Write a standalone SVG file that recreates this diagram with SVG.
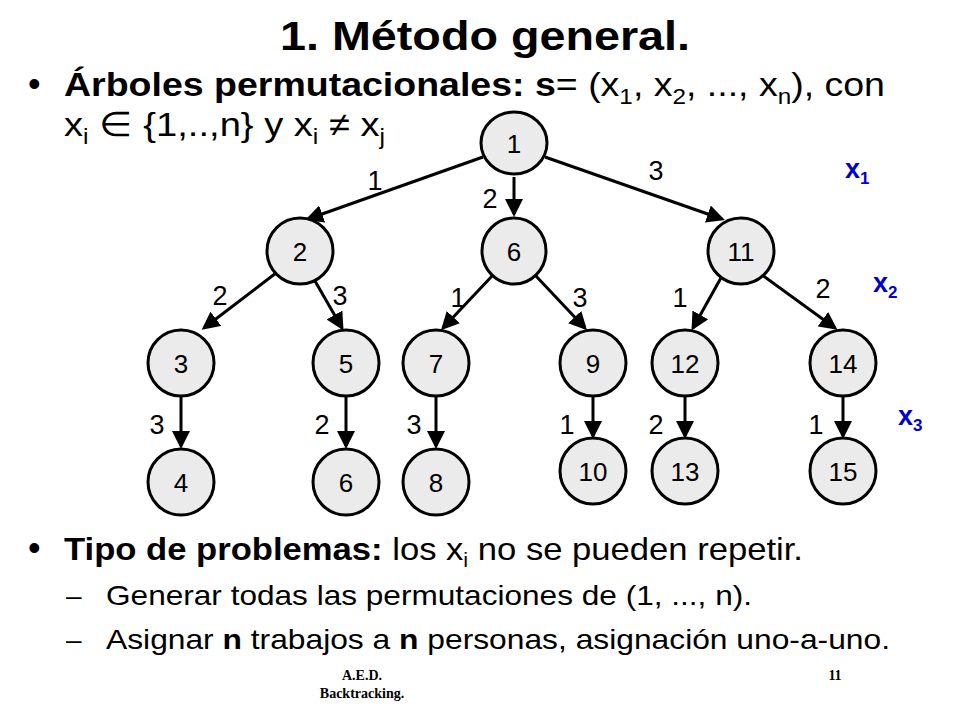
<svg xmlns="http://www.w3.org/2000/svg" width="960" height="720" viewBox="0 0 960 720">
<defs>
<style>
.t{font-family:"Liberation Sans",Arial,sans-serif;fill:#000}
.n ellipse{fill:#ebebeb;stroke:#000;stroke-width:3}
.n text{font-family:"Liberation Sans",Arial,sans-serif;font-size:26px;text-anchor:middle}
.e line{stroke:#000;stroke-width:3;marker-end:url(#a)}
.l{font-family:"Liberation Sans",Arial,sans-serif;font-size:27px;text-anchor:middle}
.x{font-family:"Liberation Sans",Arial,sans-serif;font-size:27px;font-weight:bold;fill:#0000cc}
.f{font-family:"Liberation Serif","Times New Roman",serif;font-size:14px;font-weight:bold;text-anchor:middle}
</style>
<marker id="a" markerWidth="6" markerHeight="6" refX="5" refY="3" orient="auto" markerUnits="strokeWidth"><path d="M0,0L6,3L0,6z"/></marker>
</defs>
<rect width="960" height="720" fill="#fff"/>
<text class="t" x="280" y="50" font-size="40" font-weight="bold" textLength="410" lengthAdjust="spacingAndGlyphs">1. Método general.</text>
<text class="t" x="28" y="96" font-size="36">•</text>
<text class="t" x="64" y="96" font-size="34" textLength="821" lengthAdjust="spacingAndGlyphs"><tspan font-weight="bold">Árboles permutacionales: s</tspan>= (x<tspan font-size="22" dy="8">1</tspan><tspan dy="-8">, x</tspan><tspan font-size="22" dy="8">2</tspan><tspan dy="-8">, ..., x</tspan><tspan font-size="22" dy="8">n</tspan><tspan dy="-8">), con</tspan></text>
<text class="t" x="64" y="136" font-size="34" textLength="321" lengthAdjust="spacingAndGlyphs">x<tspan font-size="22" dy="8">i</tspan><tspan dy="-8"> ∈ {1,..,n} y x</tspan><tspan font-size="22" dy="8">i</tspan><tspan dy="-8"> ≠ x</tspan><tspan font-size="22" dy="8">j</tspan></text>
<g class="e" id="connectors">
<line x1="483" y1="157" x2="308" y2="219"/>
<line x1="514" y1="177" x2="514" y2="214"/>
<line x1="545" y1="157" x2="722" y2="219"/>
<line x1="276" y1="273" x2="204" y2="328"/>
<line x1="315" y1="281" x2="342" y2="328"/>
<line x1="493" y1="275" x2="443" y2="328"/>
<line x1="535" y1="275" x2="585" y2="328"/>
<line x1="722" y1="276" x2="693" y2="328"/>
<line x1="762" y1="275" x2="835" y2="328"/>
<line x1="181" y1="397" x2="181" y2="446"/>
<line x1="346" y1="397" x2="346" y2="446"/>
<line x1="436" y1="397" x2="436" y2="446"/>
<line x1="593" y1="397" x2="593" y2="436"/>
<line x1="685" y1="397" x2="685" y2="436"/>
<line x1="843" y1="397" x2="843" y2="436"/>
</g>
<g class="n" id="n1"><ellipse cx="514" cy="143" rx="33" ry="31"/><text x="514" y="153">1</text></g>
<g class="n" id="n2"><ellipse cx="300" cy="251" rx="33" ry="33"/><text x="300" y="261">2</text></g>
<g class="n" id="n6a"><ellipse cx="514" cy="251" rx="32" ry="33"/><text x="514" y="261">6</text></g>
<g class="n" id="n11"><ellipse cx="741" cy="251" rx="33" ry="33"/><text x="741" y="261">11</text></g>
<g class="n" id="n3"><ellipse cx="181" cy="363" rx="33" ry="33"/><text x="181" y="373">3</text></g>
<g class="n" id="n5"><ellipse cx="346" cy="363" rx="33" ry="33"/><text x="346" y="373">5</text></g>
<g class="n" id="n7"><ellipse cx="436" cy="363" rx="33" ry="33"/><text x="436" y="373">7</text></g>
<g class="n" id="n9"><ellipse cx="593" cy="363" rx="33" ry="33"/><text x="593" y="373">9</text></g>
<g class="n" id="n12"><ellipse cx="685" cy="363" rx="33" ry="33"/><text x="685" y="373">12</text></g>
<g class="n" id="n14"><ellipse cx="843" cy="363" rx="33" ry="33"/><text x="843" y="373">14</text></g>
<g class="n" id="n4"><ellipse cx="181" cy="482" rx="33" ry="33"/><text x="181" y="492">4</text></g>
<g class="n" id="n6b"><ellipse cx="346" cy="482" rx="33" ry="33"/><text x="346" y="492">6</text></g>
<g class="n" id="n8"><ellipse cx="436" cy="482" rx="33" ry="33"/><text x="436" y="492">8</text></g>
<g class="n" id="n10"><ellipse cx="593" cy="471" rx="33" ry="33"/><text x="593" y="481">10</text></g>
<g class="n" id="n13"><ellipse cx="685" cy="471" rx="33" ry="33"/><text x="685" y="481">13</text></g>
<g class="n" id="n15"><ellipse cx="843" cy="471" rx="33" ry="33"/><text x="843" y="481">15</text></g>
<g id="labels">
<text class="l" x="375" y="190">1</text>
<text class="l" x="490" y="208">2</text>
<text class="l" x="656" y="180">3</text>
<text class="l" x="220" y="305">2</text>
<text class="l" x="340" y="305">3</text>
<text class="l" x="458" y="307">1</text>
<text class="l" x="580" y="307">3</text>
<text class="l" x="680" y="307">1</text>
<text class="l" x="823" y="298">2</text>
<text class="l" x="157" y="434">3</text>
<text class="l" x="322" y="434">2</text>
<text class="l" x="414" y="434">3</text>
<text class="l" x="567" y="434">1</text>
<text class="l" x="656" y="434">2</text>
<text class="l" x="816" y="434">1</text>
</g>
<text class="x" x="845" y="178">x<tspan font-size="17" dy="6">1</tspan></text>
<text class="x" x="873" y="292">x<tspan font-size="17" dy="6">2</tspan></text>
<text class="x" x="898" y="425">x<tspan font-size="17" dy="6">3</tspan></text>
<text class="t" x="28" y="560" font-size="36">•</text>
<text class="t" x="64" y="560" font-size="32" textLength="739" lengthAdjust="spacingAndGlyphs"><tspan font-weight="bold">Tipo de problemas:</tspan> los x<tspan font-size="20" dy="7">i</tspan><tspan dy="-7"> no se pueden repetir.</tspan></text>
<text class="t" x="66" y="605" font-size="28">–</text>
<text class="t" x="106" y="605" font-size="28" textLength="646" lengthAdjust="spacingAndGlyphs">Generar todas las permutaciones de (1, ..., n).</text>
<text class="t" x="66" y="649" font-size="28">–</text>
<text class="t" x="106" y="649" font-size="28" textLength="784" lengthAdjust="spacingAndGlyphs">Asignar <tspan font-weight="bold">n</tspan> trabajos a <tspan font-weight="bold">n</tspan> personas, asignación uno-a-uno.</text>
<text class="f" x="362" y="680">A.E.D.</text>
<text class="f" x="362" y="698">Backtracking.</text>
<text class="f" x="835" y="680">11</text>
</svg>
